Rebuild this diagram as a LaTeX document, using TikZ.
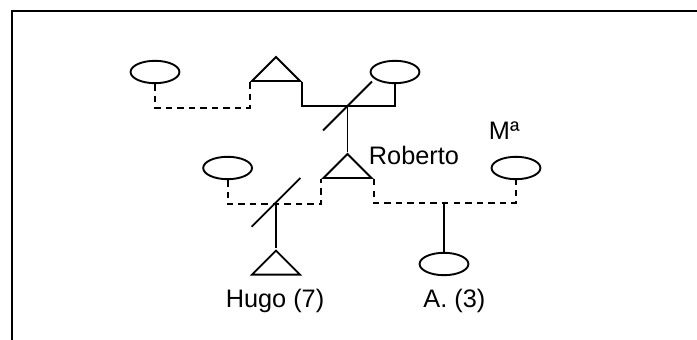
\documentclass[tikz,border=0pt]{standalone}
\usepackage{fontspec}
\setmainfont{Liberation Sans}
\usetikzlibrary{shapes.geometric, positioning}

\begin{document}
\begin{tikzpicture}[
  font=\fontsize{18}{20}\selectfont,
  line width=1.35pt,
  female/.style={
    ellipse, draw,
    minimum width=1.22cm, minimum height=0.56cm,
    inner sep=0pt
  },
  male/.style={
    isosceles triangle, isosceles triangle stretches=true,
    shape border rotate=90, draw,
    minimum width=1.2cm, minimum height=0.6cm,
    inner sep=0pt, anchor=lower side
  },
  kinname/.style={inner sep=0pt},
  bond/.style={line width=1.35pt},
  loosebond/.style={bond, dash pattern=on 4.6pt off 3.6pt},
  breakup/.style={line width=1.35pt}
]

\useasboundingbox (0,0) rectangle (17.425,-8.5);

% ── Frame ─────────────────────────────────────────────────────────────────
\draw[line width=1.5pt] (0.29,-8.5) -- (0.29,-0.28) -- (17.425,-0.28);

% ── Grandparents ──────────────────────────────────────────────────────────
\node[female] (ellA) at (3.875,-1.8) {};
\node[male]   (triA) at (6.9,-2.05) {};
\node[female] (ellB) at (9.875,-1.8) {};

% ── Roberto and partners ──────────────────────────────────────────────────
\node[male]   (roberto) at (8.6875,-4.475) {};
\node[female] (ellC)    at (5.69,-4.2) {};
\node[female] (maria)   at (12.9,-4.2) {};

% ── Children ──────────────────────────────────────────────────────────────
\node[male]   (hugo)  at (6.9,-6.89) {};
\node[female] (child) at (11.1,-6.6) {};

% ── Names ─────────────────────────────────────────────────────────────────
\node[kinname, anchor=base west] (robertoname) at (9.2,-4.125) {Roberto};
\node[kinname, anchor=base west] (marianame)   at (12.2,-3.5)  {Mª};
\node[kinname, anchor=base] (hugoname)  at (6.875,-7.7) {Hugo (7)};
\node[kinname, anchor=base] (childname) at (11.36,-7.7) {A. (3)};

% ── Unions ────────────────────────────────────────────────────────────────
\coordinate (union1) at (8.6875,-2.65);
\coordinate (union2) at (6.9,-5.06);
\coordinate (union3) at (11.1,-5.06);

\draw[loosebond] (ellA.south) -- ++(0,-0.6) -| (triA.left corner);
\draw[bond] (triA.right corner) -- ++(0,-0.6) -| (ellB.south);
\draw[breakup] ([shift={(-0.61,-0.61)}]union1) -- ([shift={(0.61,0.61)}]union1);
\draw[bond] (union1) -- (roberto.apex);

\draw[loosebond] (ellC.south) -- ++(0,-0.6) -| (roberto.left corner);
\draw[breakup] ([shift={(-0.61,-0.61)}]union2) -- ([shift={(0.61,0.61)}]union2);
\draw[bond] (union2) -- (hugo.apex);

\draw[loosebond] (roberto.right corner) -- ++(0,-0.6) -| (maria.south);
\draw[bond] (union3) -- (child.north);

\end{tikzpicture}
\end{document}
